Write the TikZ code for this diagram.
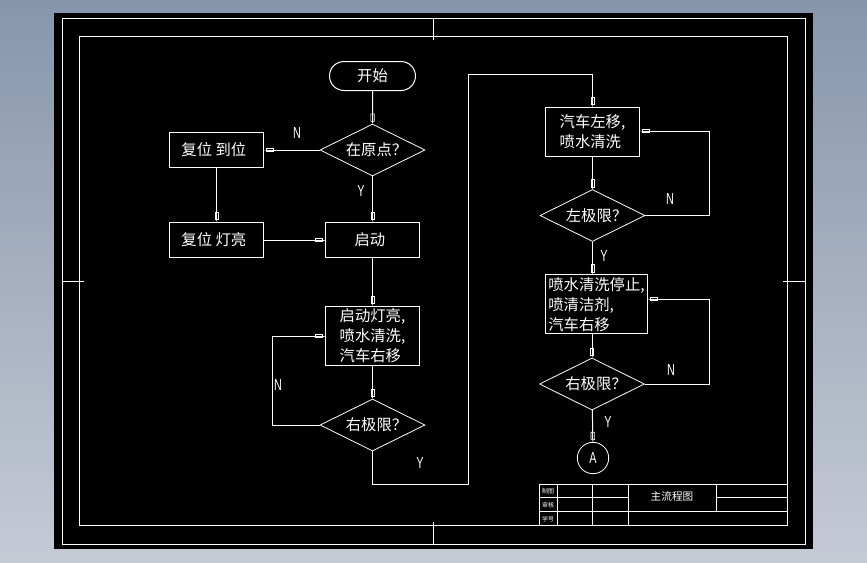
\documentclass[tikz,border=0pt]{standalone}
\usepackage{fontspec}
\setmainfont{Noto Sans CJK SC}
\newfontfamily\cadfont[FakeStretch=0.68]{Liberation Sans}
\usetikzlibrary{arrows.meta}
\usetikzlibrary{shapes.geometric}
\usetikzlibrary{shapes.misc}
\definecolor{paneTop}{RGB}{135,150,172}
\definecolor{paneBot}{RGB}{197,202,213}
\newcommand{\nudge}[1]{\hspace*{#1}}
\tikzset{
  frameline/.style={draw=white,line width=0.75pt},
  flowbox/.style={rectangle,draw=white,line width=0.75pt,inner sep=0pt,font=\fontsize{11.5}{15}\selectfont,text=white,align=center},
  flowdia/.style={diamond,draw=white,line width=0.6pt,inner sep=0pt,aspect=2,minimum width=78.75pt,minimum height=39pt,font=\fontsize{11.5}{15}\selectfont,text=white},
  yesno/.style={inner sep=0pt,text=white,font=\cadfont\fontsize{12}{14}\selectfont},
  smalltxt/.style={inner sep=0pt,text=white,font=\fontsize{4.5}{5}\selectfont},
  flowline/.style={draw=white,line width=0.75pt},
  flowarrow/.style={flowline,-{Rectangle[open,length=6pt,width=3pt,line width=0.45pt] Rectangle[length=1.5pt,width=0.75pt]}},
}
\begin{document}
\begin{tikzpicture}[x=0.75pt,y=0.75pt,yscale=-1,xscale=1]
\useasboundingbox (0,0) rectangle (867,562);
%background and sheet
\shade [top color=paneTop,bottom color=paneBot] (0,0) rectangle (867,562);
\fill [black] (54,13) rectangle (813,549);
\draw [frameline] (62,18) rectangle (805,544);
\draw [frameline] (79,36) rectangle (787.5,525.5);
%centre marks
\draw [frameline] (433,18) -- (433,40);
\draw [frameline] (433,522) -- (433,544);
\draw [frameline] (62,281) -- (84,281);
\draw [frameline] (783,281) -- (805,281);
%title block
\draw [frameline] (539,484) rectangle (787.5,525.5);
\draw [frameline] (539,511.5) -- (787.5,511.5);
\draw [frameline] (539,497.5) -- (628,497.5);
\draw [frameline] (716,497.5) -- (787.5,497.5);
\draw [frameline] (557,484) -- (557,525.5);
\draw [frameline] (592,484) -- (592,525.5);
\draw [frameline] (628,484) -- (628,525.5);
\draw [frameline] (716,484) -- (716,511.5);
\node [smalltxt] (tbdraw) at (548,491) {制图};
\node [smalltxt] (tbcheck) at (548,505) {审核};
\node [smalltxt] (tbnum) at (548,519) {学号};
\node [inner sep=0pt,text=white,font=\fontsize{8}{9}\selectfont] (tbtitle) at (672,496) {主流程图};

%left column
\node [flowbox,rounded rectangle,minimum width=64.5pt,minimum height=21.75pt] (start) at (372.5,76) {开始};
\node [flowdia] (origin) at (372.5,150) {\nudge{6pt}在原点？};
\node [flowbox,minimum width=70.5pt,minimum height=26.5pt] (reset) at (216.5,150) {复位 到位\nudge{4pt}};
\node [flowbox,minimum width=70.5pt,minimum height=26.5pt] (lamp) at (216.5,240) {复位 灯亮\nudge{4pt}};
\node [flowbox,minimum width=70.5pt,minimum height=26.5pt] (run) at (372.5,240) {启动\nudge{4pt}};
\node [flowbox,minimum width=70.5pt,minimum height=44.5pt,align=left] (wash) at (372.5,336) {启动灯亮,\\喷水清洗,\\汽车右移};
\node [flowdia] (rlimit) at (372.5,425) {\nudge{6pt}右极限？};
%right column
\node [flowbox,minimum width=70.5pt,minimum height=37pt,align=left] (left) at (592.5,132) {汽车左移,\\喷水清洗};
\node [flowdia] (llimit) at (592.5,215.5) {\nudge{6pt}左极限？};
\node [flowbox,minimum width=76.5pt,minimum height=44.5pt,align=left] (soap) at (596.5,304.3) {喷水清洗停止,\\喷清洁剂,\\汽车右移};
\node [flowdia] (rlimitb) at (592,384) {\nudge{6pt}右极限？};
\node [circle,draw=white,line width=0.6pt,inner sep=0pt,minimum size=23.5pt,text=white,font=\cadfont\fontsize{12}{14}\selectfont] (conn) at (593,458) {A};

%bends
\coordinate (turnA) at (372.5,484);
\coordinate (turnB) at (468,484);
\coordinate (turnC) at (468,74);
\coordinate (turnD) at (592.5,74);

%connectors
\draw [flowarrow] (start) -- (origin);
\draw [flowarrow] (origin) -- (reset);
\draw [flowarrow] (origin) -- (run);
\draw [flowarrow] (reset) -- (lamp);
\draw [flowarrow] (lamp) -- (run);
\draw [flowarrow] (run) -- (wash);
\draw [flowarrow] (wash) -- (rlimit);
\draw [flowarrow] (rlimit.west) -- (272,425) -- (272,336) -- (wash.west);
\draw [flowarrow] (rlimit.south) -- (turnA) -- (turnB) -- (turnC) -- (turnD) -- (left.north);
\draw [flowarrow] (left) -- (llimit);
\draw [flowarrow] (llimit.east) -- (709,215.5) -- (709,131) -- (left.east |- 0,131);
\draw [flowarrow] (llimit.south) -- (soap.north -| llimit.south);
\draw [flowarrow] (soap.south -| rlimitb.north) -- (rlimitb.north);
\draw [flowarrow] (rlimitb.east) -- (709,384) -- (709,299) -- (soap.east |- 0,299);
\draw [flowarrow] (rlimitb) -- (conn);

%labels
\node [yesno] (nA) at (297,133) {N};
\node [yesno] (yA) at (361,191) {Y};
\node [yesno] (nB) at (278,385) {N};
\node [yesno] (yB) at (420,463) {Y};
\node [yesno] (nC) at (670,199) {N};
\node [yesno] (yC) at (604,256) {Y};
\node [yesno] (nD) at (671,370) {N};
\node [yesno] (yD) at (608,422) {Y};
\end{tikzpicture}
\end{document}
